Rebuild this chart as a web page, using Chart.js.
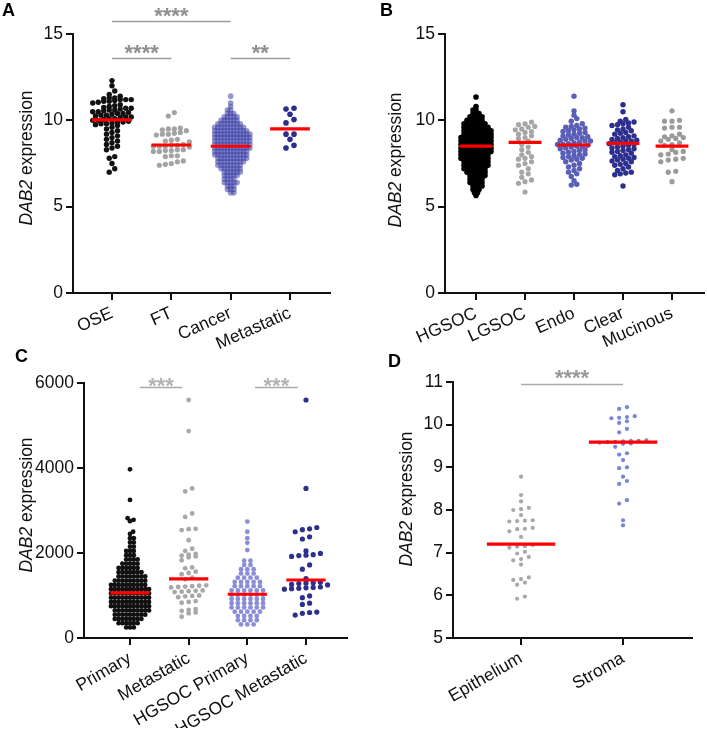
<!DOCTYPE html>
<html>
<head>
<meta charset="utf-8">
<script src="https://cdn.jsdelivr.net/npm/chart.js@4.4.1/dist/chart.umd.min.js"></script>
<style>
  html, body { margin: 0; padding: 0; background: #fff; }
  #wrap { position: relative; width: 707px; height: 740px; overflow: hidden; }
  #wrap canvas { position: absolute; left: 0; top: 0; }
</style>
</head>
<body>
<div id="wrap">
  <canvas id="panelA" width="707" height="740"></canvas>
  <canvas id="panelB" width="707" height="740"></canvas>
  <canvas id="panelC" width="707" height="740"></canvas>
  <canvas id="panelD" width="707" height="740"></canvas>
</div>
<script>
// ---- Panel A: tissue type ----
const catsA = ['OSE', 'FT', 'Cancer', 'Metastatic'];
const oseA = [12.3, 12.0, 11.7, 11.5, 11.4, 11.3, 11.3, 11.25, 11.2, 11.2, 11.2, 11.15, 11.1, 11.1, 11.05, 11.0,
  10.9, 10.85, 10.8, 10.75, 10.7, 10.7, 10.65, 10.6, 10.6, 10.55, 10.5, 10.5, 10.45, 10.4, 10.4, 10.35, 10.3, 10.3,
  10.25, 10.2, 10.2, 10.15, 10.1, 10.1, 10.05, 10.0, 10.0, 9.95, 9.9, 9.9, 9.85, 9.8, 9.8, 9.75, 9.7, 9.6, 9.5, 9.4,
  9.3, 9.2, 9.1, 9.0, 8.9, 8.8, 8.7, 8.6, 8.5, 8.4, 8.3, 7.9, 7.8, 7.5, 7.2, 7.0];
const ftA = [10.45, 10.25, 9.55, 9.5, 9.5, 9.45, 9.4, 9.3, 9.25, 9.2, 9.2, 9.15, 8.9, 8.85, 8.8, 8.75, 8.6, 8.55,
  8.55, 8.5, 8.5, 8.5, 8.45, 8.3, 8.3, 8.25, 8.25, 8.2, 8.2, 7.95, 7.95, 7.9, 7.65, 7.6, 7.5, 7.45, 7.4];
const cancerLevelsA = [11.4, 11.0, 10.8, 10.6, 10.4, 10.2, 10.0, 9.8, 9.6, 9.4, 9.2, 9.0, 8.8, 8.6, 8.4, 8.2, 8.0,
  7.8, 7.6, 7.4, 7.2, 7.0, 6.8, 6.6, 6.4, 6.2, 6.0, 5.8];
const cancerCountsA = [1, 1, 1, 2, 3, 5, 6, 8, 10, 11, 12, 12, 12, 12, 12, 11, 11, 10, 9, 8, 7, 6, 5, 4, 5, 3, 3, 2];
const metastaticA = [10.7, 10.65, 10.35, 10.05, 9.85, 9.2, 9.2, 8.9, 8.55, 8.4];
const mediansA = [10.03, 8.57, 8.5, 9.5];
const yTicksA = [0, 5, 10, 15];
const sigA = [[0, 2, '****'], [0, 1, '****'], [2, 3, '**']];
const sigLevelsA = [15.75, 13.6, 13.6];

// ---- Panel B: histotype ----
const catsB = ['HGSOC', 'LGSOC', 'Endo', 'Clear', 'Mucinous'];
const hgsocLevelsB = [11.35, 10.8, 10.6, 10.4, 10.2, 10.0, 9.8, 9.6, 9.4, 9.2, 9.0, 8.8, 8.6, 8.4, 8.2, 8.0, 7.8,
  7.6, 7.4, 7.2, 7.0, 6.8, 6.6, 6.4, 6.2, 6.0, 5.8, 5.65];
const hgsocCountsB = [1, 1, 2, 3, 5, 6, 8, 9, 10, 10, 11, 11, 11, 11, 11, 10, 10, 9, 9, 8, 7, 6, 5, 5, 4, 3, 2, 1];
const lgsocB = [9.9, 9.8, 9.75, 9.65, 9.6, 9.5, 9.45, 9.35, 9.3, 9.2, 9.1, 9.0, 8.95, 8.8, 8.6, 8.45, 8.3, 8.15,
  8.0, 7.9, 7.8, 7.75, 7.6, 7.5, 7.4, 7.2, 7.0, 6.9, 6.7, 6.55, 6.45, 6.35, 5.85];
const endoB = [11.4, 10.55, 10.3, 10.1, 9.95, 9.8, 9.7, 9.65, 9.6, 9.55, 9.5, 9.45, 9.4, 9.35, 9.3, 9.25, 9.2, 9.15,
  9.1, 9.05, 9.0, 9.0, 8.95, 8.9, 8.85, 8.8, 8.8, 8.75, 8.7, 8.65, 8.6, 8.6, 8.55, 8.5, 8.5, 8.45, 8.4, 8.35, 8.3,
  8.25, 8.2, 8.15, 8.1, 8.05, 8.0, 7.95, 7.9, 7.85, 7.8, 7.75, 7.7, 7.6, 7.5, 7.4, 7.3, 7.2, 7.1, 7.0, 6.9, 6.75,
  6.5, 6.3, 6.25];
const clearB = [10.9, 10.5, 10.05, 9.95, 9.9, 9.85, 9.8, 9.75, 9.7, 9.6, 9.5, 9.45, 9.4, 9.3, 9.25, 9.2, 9.1, 9.05,
  9.0, 8.95, 8.9, 8.85, 8.8, 8.8, 8.75, 8.7, 8.65, 8.6, 8.55, 8.5, 8.45, 8.4, 8.35, 8.3, 8.25, 8.2, 8.15, 8.1, 8.0,
  7.95, 7.9, 7.85, 7.8, 7.75, 7.7, 7.65, 7.6, 7.5, 7.45, 7.4, 7.3, 7.2, 7.1, 7.0, 6.95, 6.9, 6.85, 6.2];
const mucinousB = [10.55, 10.0, 9.95, 9.95, 9.6, 9.6, 9.55, 9.2, 9.1, 9.05, 9.0, 8.95, 8.9, 8.8, 8.7, 8.6, 8.55,
  8.3, 8.2, 8.15, 8.05, 8.0, 7.8, 7.75, 7.7, 7.6, 7.05, 7.0, 6.45];
const mediansB = [8.51, 8.72, 8.57, 8.67, 8.51];
const yTicksB = [0, 5, 10, 15];

// ---- Panel C: primary vs metastatic ----
const catsC = ['Primary', 'Metastatic', 'HGSOC Primary', 'HGSOC Metastatic'];
const primaryLevelsC = [3970, 3250, 2820, 2780, 2750, 2500, 2450, 2350, 2250, 2150, 2050, 1950, 1850, 1750, 1650,
  1550, 1450, 1350, 1250, 1150, 1050, 950, 850, 750, 650, 550, 450, 350, 250];
const primaryCountsC = [1, 1, 1, 1, 1, 1, 1, 2, 2, 2, 3, 3, 4, 5, 6, 7, 8, 9, 10, 11, 11, 11, 11, 11, 10, 9, 8, 6, 3];
const metastaticC = [5600, 4870, 3520, 3450, 2930, 2850, 2570, 2560, 2540, 2300, 2100, 2050, 1980, 1960, 1940, 1920,
  1900, 1830, 1660, 1640, 1560, 1530, 1500, 1420, 1380, 1240, 1230, 1220, 1210, 1200, 1190, 1120, 1110, 1100, 1090,
  1080, 1000, 990, 980, 960, 870, 850, 830, 680, 660, 640, 600, 580, 500];
const hgsocPrimaryLevelsC = [2740, 2500, 2350, 2240, 2070, 1820, 1720, 1620, 1520, 1420, 1320, 1220, 1120, 1020,
  920, 820, 720, 620, 520, 420, 320];
const hgsocPrimaryCountsC = [1, 1, 1, 1, 1, 2, 2, 3, 3, 4, 5, 5, 6, 6, 6, 6, 6, 5, 4, 4, 3];
const hgsocMetastaticC = [5600, 3520, 2600, 2570, 2550, 2500, 2380, 2330, 2050, 1990, 1960, 1950, 1940, 1920, 1720,
  1620, 1400, 1310, 1300, 1290, 1280, 1260, 1250, 1200, 1190, 1180, 1170, 1160, 1150, 990, 950, 820, 790, 610, 600,
  580, 540];
const mediansC = [1060, 1390, 1030, 1365];
const yTicksC = [0, 2000, 4000, 6000];
const sigC = [[0.17, 0.89, '***'], [2.13, 2.86, '***']];
const sigLevelsC = [5910, 5910];

// ---- Panel D: epithelium vs stroma ----
const catsD = ['Epithelium', 'Stroma'];
const epitheliumD = [8.78, 8.35, 8.2, 8.05, 8.02, 8.0, 7.88, 7.76, 7.75, 7.74, 7.73, 7.58, 7.56, 7.55, 7.5, 7.37,
  7.18, 7.15, 7.14, 7.12, 7.02, 6.98, 6.9, 6.85, 6.82, 6.72, 6.42, 6.38, 6.36, 6.3, 6.25, 5.97, 5.92];
const stromaD = [10.41, 10.37, 10.2, 10.18, 10.16, 10.15, 10.08, 10.04, 9.9, 9.82, 9.63, 9.62, 9.62, 9.61, 9.6,
  9.59, 9.58, 9.56, 9.55, 9.48, 9.33, 9.3, 9.17, 9.0, 8.98, 8.78, 8.68, 8.61, 8.23, 8.15, 7.76, 7.64];
const mediansD = [7.2, 9.59];
const yTicksD = [5, 6, 7, 8, 9, 10, 11];
const sigD = [[0, 1, '****']];
const sigLevelsD = [10.95];

const FONT = '"Liberation Sans", Arial, sans-serif';
Chart.defaults.font.family = FONT;
Chart.defaults.color = '#111';

function expand(levels, counts) {
  return levels.flatMap((v, i) => Array(counts[i]).fill(v));
}

// beeswarm for the dense groups: each point as close to the centre as it fits (pixel space)
function swarm(vals, pxY, d) {
  const order = vals.map((v, i) => i).sort((a, b) => vals[a] - vals[b]);
  const placed = [];
  const out = new Array(vals.length);
  order.forEach(i => {
    const y = vals[i] * pxY;
    const near = placed.filter(p => Math.abs(p.y - y) < d);
    const cands = [0];
    near.forEach(p => {
      const w = Math.sqrt(d * d - (p.y - y) * (p.y - y));
      cands.push(p.x + w, p.x - w);
    });
    const sgn = placed.length % 2 ? 1 : -1;
    cands.sort((a, b) => (Math.abs(a) - Math.abs(b)) || (b - a) * sgn);
    const x = cands.find(c => near.every(p => (p.x - c) ** 2 + (p.y - y) ** 2 >= d * d - 1e-6));
    placed.push({ x, y });
    out[i] = x;
  });
  return out;
}

// row scatter (like Prism): points within h px share a centred row, d px apart
function rows(vals, pxY, d, h) {
  const order = vals.map((v, i) => i).sort((a, b) => vals[a] - vals[b]);
  const out = new Array(vals.length);
  let row = [], start = null;
  const flush = () => {
    row.forEach((i, k) => { out[i] = (k - (row.length - 1) / 2) * d; });
    row = [];
  };
  order.forEach(i => {
    const y = vals[i] * pxY;
    if (start === null || y - start > h) { flush(); start = y; }
    row.push(i);
  });
  flush();
  return out;
}

// panel letter, y title with italic gene name, significance bars
const decor = {
  id: 'decor',
  afterDraw(chart, args, o) {
    const { ctx } = chart;
    const xs = chart.scales.x, ys = chart.scales.y;
    ctx.save();
    ctx.fillStyle = '#000';
    ctx.font = 'bold 18px ' + FONT;
    ctx.textBaseline = 'top';
    ctx.textAlign = 'left';
    ctx.fillText(o.letter, o.letterX, o.letterY);

    ctx.translate(o.titleX, o.titleY);
    ctx.rotate(-Math.PI / 2);
    const fi = 'italic 17.5px ' + FONT, fn = '17.5px ' + FONT;
    ctx.font = fi;
    const w1 = ctx.measureText('DAB2').width;
    ctx.font = fn;
    const w2 = ctx.measureText(' expression').width;
    ctx.textBaseline = 'middle';
    ctx.fillStyle = '#111';
    ctx.font = fi;
    ctx.fillText('DAB2', -(w1 + w2) / 2, 0);
    ctx.font = fn;
    ctx.fillText(' expression', -(w1 + w2) / 2 + w1, 0);
    ctx.restore();

    ctx.save();
    (o.sig || []).forEach((s, i) => {
      const x1 = xs.getPixelForValue(s[0]), x2 = xs.getPixelForValue(s[1]);
      const py = Math.round(ys.getPixelForValue(o.sigLevels[i])) + 0.5;
      ctx.strokeStyle = o.barColor;
      ctx.lineWidth = 1.5;
      ctx.beginPath();
      ctx.moveTo(x1, py);
      ctx.lineTo(x2, py);
      ctx.stroke();
      ctx.fillStyle = o.starColor;
      ctx.font = 'bold 22px ' + FONT;
      ctx.textAlign = 'center';
      ctx.textBaseline = 'alphabetic';
      ctx.fillText(s[2], (x1 + x2) / 2, py - o.starGap + 12.6);
    });
    ctx.restore();
  }
};

const X_AXIS_H = 90;

function buildPanel(id, p) {
  const pxY = (p.area.bottom - p.area.top) / (p.yMax - p.yMin);
  const pxX = (p.area.right - p.area.left) / (p.xMax - p.xMin);
  const datasets = [];
  p.medians.forEach((m, i) => {
    datasets.push({
      data: [{ x: i - 0.335, y: m }, { x: i + 0.335, y: m }],
      showLine: true, borderColor: '#ff0000', borderWidth: 3.2, pointRadius: 0, order: 0
    });
  });
  p.groups.forEach((g, i) => {
    const off = g.h ? rows(g.vals, pxY, g.d, g.h) : swarm(g.vals, pxY, g.d);
    datasets.push({
      data: g.vals.map((v, k) => ({ x: i + off[k] / pxX, y: v })),
      backgroundColor: g.color, borderWidth: 0, pointRadius: g.r, order: 1
    });
  });
  const axisStyle = {
    grid: { display: true, drawOnChartArea: false, drawTicks: true, tickLength: 7, color: '#111', lineWidth: 2 },
    border: { display: true, color: '#111', width: 2 }
  };
  new Chart(document.getElementById(id), {
    type: 'scatter',
    data: { datasets },
    plugins: [decor],
    options: {
      responsive: false,
      animation: false,
      layout: {
        autoPadding: false,
        padding: { left: p.area.left - 60, right: 707 - p.area.right, top: p.area.top,
          bottom: Math.max(0, 740 - p.area.bottom - X_AXIS_H) }
      },
      plugins: { legend: { display: false }, tooltip: { enabled: false }, decor: p.decor },
      scales: {
        x: {
          type: 'linear', min: p.xMin, max: p.xMax, ...axisStyle,
          afterBuildTicks: s => { s.ticks = p.cats.map((c, i) => ({ value: i })); },
          afterFit: s => { s.height = X_AXIS_H; },
          ticks: {
            autoSkip: false, minRotation: p.rot, maxRotation: p.rot, padding: 3,
            font: { size: 17.5 }, color: '#111', callback: v => p.cats[v]
          }
        },
        y: {
          min: p.yMin, max: p.yMax, ...axisStyle,
          afterBuildTicks: s => { s.ticks = p.yTicks.map(v => ({ value: v })); },
          afterFit: s => { s.width = 60; },
          ticks: { padding: 3, font: { size: 17.5 }, color: '#111', callback: v => String(v) }
        }
      }
    }
  });
}

buildPanel('panelA', {
  cats: catsA, medians: mediansA, yTicks: yTicksA, rot: 24,
  area: { left: 73, right: 330, top: 34, bottom: 293 }, xMin: -0.657, xMax: 3.674, yMin: 0, yMax: 15,
  groups: [
    { vals: oseA, color: '#111', r: 2.7, d: 5.5, h: 4 },
    { vals: ftA, color: '#a3a3a3', r: 2.6, d: 6, h: 5 },
    { vals: expand(cancerLevelsA, cancerCountsA), color: 'rgba(58,62,165,0.55)', r: 2.8, d: 3.2 },
    { vals: metastaticA, color: '#2b2e8c', r: 2.8, d: 8, h: 4 }
  ],
  decor: { letter: 'A', letterX: 2, letterY: 2, titleX: 27, titleY: 158, sig: sigA, sigLevels: sigLevelsA,
    starGap: 11, barColor: '#9c9c9c', starColor: '#8f8f8f' }
});

buildPanel('panelB', {
  cats: catsB, medians: mediansB, yTicks: yTicksB, rot: 24,
  area: { left: 445, right: 704, top: 34, bottom: 293 }, xMin: -0.633, xMax: 4.653, yMin: 0, yMax: 15,
  groups: [
    { vals: expand(hgsocLevelsB, hgsocCountsB), color: '#000', r: 2.8, d: 3.0 },
    { vals: lgsocB, color: '#a6a6a6', r: 2.6, d: 6.5, h: 4 },
    { vals: endoB, color: '#5a5eb6', r: 2.7, d: 5.5, h: 4 },
    { vals: clearB, color: '#2c2f8e', r: 2.7, d: 5.5, h: 4 },
    { vals: mucinousB, color: '#9a9a9a', r: 2.6, d: 7.5, h: 4 }
  ],
  decor: { letter: 'B', letterX: 380, letterY: 2, titleX: 396, titleY: 160, sig: [], sigLevels: [],
    starGap: 11, barColor: '#9c9c9c', starColor: '#8f8f8f' }
});

buildPanel('panelC', {
  cats: catsC, medians: mediansC, yTicks: yTicksC, rot: 30,
  area: { left: 84, right: 347, top: 383, bottom: 638 }, xMin: -0.784, xMax: 3.699, yMin: 0, yMax: 6000,
  groups: [
    { vals: expand(primaryLevelsC, primaryCountsC), color: '#111', r: 2.4, d: 3.8 },
    { vals: metastaticC, color: '#a8a8a8', r: 2.4, d: 7, h: 4.5 },
    { vals: expand(hgsocPrimaryLevelsC, hgsocPrimaryCountsC), color: '#8a8ed6', r: 2.4, d: 6.3, h: 3 },
    { vals: hgsocMetastaticC, color: '#2c2f8e', r: 2.6, d: 7.2, h: 4.5 }
  ],
  decor: { letter: 'C', letterX: 15, letterY: 348, titleX: 27, titleY: 505, sig: sigC, sigLevels: sigLevelsC,
    starGap: 7.5, barColor: '#aaaaaa', starColor: '#b3b3b3' }
});

buildPanel('panelD', {
  cats: catsD, medians: mediansD, yTicks: yTicksD, rot: 30,
  area: { left: 453, right: 692, top: 382, bottom: 638 }, xMin: -0.667, xMax: 1.676, yMin: 5, yMax: 11,
  groups: [
    { vals: epitheliumD, color: '#a8a8a8', r: 2.1, d: 7.8, h: 4 },
    { vals: stromaD, color: '#7b85d6', r: 2.1, d: 7.8, h: 4 }
  ],
  decor: { letter: 'D', letterX: 388, letterY: 353, titleX: 407, titleY: 499, sig: sigD, sigLevels: sigLevelsD,
    starGap: 11.7, barColor: '#aaaaaa', starColor: '#999999' }
});
</script>
</body>
</html>
